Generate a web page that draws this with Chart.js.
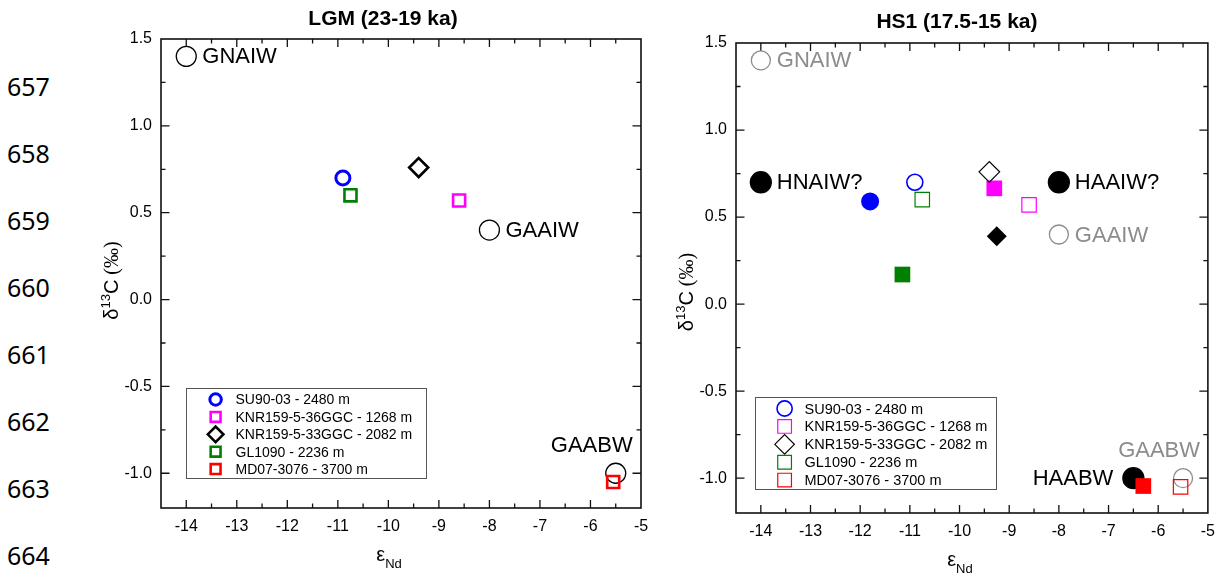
<!DOCTYPE html>
<html>
<head>
<meta charset="utf-8">
<script src="https://cdn.jsdelivr.net/npm/chart.js@4.4.1/dist/chart.umd.min.js"></script>
<style>
  body { margin: 0; background: #fff; }
  #page { position: relative; width: 1224px; height: 578px; overflow: hidden; }
  canvas { position: absolute; top: 0; }
  .ln { position: absolute; left: 7px; font-family: 'Noto Sans', sans-serif; font-size: 25px; line-height: 25px; color: #000; }
</style>
</head>
<body>
<div id="page">
  <canvas id="lgm" width="600" height="578" style="left:60px"></canvas>
  <canvas id="hs1" width="564" height="578" style="left:660px"></canvas>
</div>
<script>
// manuscript line numbers in the margin
const lineNumbers = [657, 658, 659, 660, 661, 662, 663, 664];

// axes
const xTicks = [-14, -13, -12, -11, -10, -9, -8, -7, -6, -5];
const yTicks = [-1.0, -0.5, 0.0, 0.5, 1.0, 1.5];

// cores
const coreNames = ['SU90-03 - 2480 m', 'KNR159-5-36GGC - 1268 m', 'KNR159-5-33GGC - 2082 m',
                   'GL1090 - 2236 m', 'MD07-3076 - 3700 m'];
const coreColors = ['#0000ff', '#ff00ff', '#000000', '#008000', '#ff0000'];
const coreStyles = ['circle', 'rect', 'rectRot', 'rect', 'rect'];

// LGM (23-19 ka) values
const lgmEps = [-10.9, -8.6, -9.4, -10.75, -5.55];
const lgmD13 = [0.70, 0.57, 0.76, 0.60, -1.05];

// HS1 (17.5-15 ka) values
const hs1Eps = [-11.8, -9.3, -9.25, -11.15, -6.3];
const hs1D13 = [0.59, 0.665, 0.39, 0.17, -1.045];

// end members
const glacialNames = ['GNAIW', 'GAAIW', 'GAABW'];
const glacialEps = [-14, -8, -5.5];
const glacialD13 = [1.4, 0.4, -1.0];
const glacialPlace = ['right', 'right', 'above'];

const hs1EndNames = ['HNAIW?', 'HAAIW?', 'HAABW'];
const hs1EndEps = [-14, -8, -6.5];
const hs1EndD13 = [0.7, 0.7, -1.0];
const hs1EndPlace = ['right', 'right', 'left'];

const FONT = '"Liberation Sans", Arial, sans-serif';
Chart.defaults.font.family = FONT;
Chart.defaults.color = '#000';

lineNumbers.forEach((n, i) => {
  const d = document.createElement('div');
  d.className = 'ln';
  d.style.top = (87 + 67 * i - 13.3) + 'px';
  d.textContent = n;
  document.getElementById('page').appendChild(d);
});

function pts(xs, ys) { return xs.map((x, i) => ({ x: x, y: ys[i] })); }

function marker(ctx, style, x, y, r) {
  ctx.beginPath();
  if (style === 'circle') ctx.arc(x, y, r, 0, Math.PI * 2);
  else if (style === 'rect') { const s = r * Math.SQRT1_2; ctx.rect(x - s, y - s, 2 * s, 2 * s); }
  else { ctx.moveTo(x - r, y); ctx.lineTo(x, y - r); ctx.lineTo(x + r, y); ctx.lineTo(x, y + r); ctx.closePath(); }
}

function coreSets(xs, ys, filled, lw, radii, inLegend) {
  return coreNames.map((name, i) => ({
    label: name,
    data: [{ x: xs[i], y: ys[i] }],
    pointStyle: coreStyles[i],
    pointRadius: radii[coreStyles[i]],
    pointBorderColor: coreColors[i],
    pointBackgroundColor: filled ? coreColors[i] : 'rgba(0,0,0,0)',
    pointBorderWidth: filled ? 0 : (coreStyles[i] === 'circle' ? lw + 0.4 : lw),
    order: filled ? 1 : 0,
    inLegend: inLegend
  }));
}

function endSet(names, xs, ys, place, color, filled, r) {
  return {
    label: names.join(','),
    data: pts(xs, ys),
    names: names,
    place: place,
    labelColor: color,
    pointStyle: 'circle',
    pointRadius: r,
    pointBorderColor: color,
    pointBackgroundColor: filled ? color : 'rgba(0,0,0,0)',
    pointBorderWidth: 1.3,
    order: 5
  };
}

const deco = {
  lgm: { title: 'LGM (23-19 ka)', titleDx: -18, titleY: 19, yTitleDy: 7, legendTop: 120, legendDx: 25,
         legendW: 240, legendH: 90, rowH: 17.4, legendFont: 14, legendScale: 0.82, legendLw: 2.6 },
  hs1: { title: 'HS1 (17.5-15 ka)', titleDx: -15, titleY: 22, yTitleDy: 14, legendTop: 116, legendDx: 19,
         legendW: 241, legendH: 92, rowH: 17.9, legendFont: 14.5, legendScale: 0.95, legendLw: 1.2 }
};

const decoPlugin = {
  id: 'deco',
  beforeDatasetsDraw(chart) {
    const { ctx, chartArea: a, scales: { x, y } } = chart;
    ctx.save();
    ctx.strokeStyle = '#111';
    ctx.lineWidth = 1.6;
    ctx.strokeRect(a.left, a.top, a.right - a.left, a.bottom - a.top);
    ctx.lineWidth = 1.3;
    ctx.beginPath();
    for (let k = 1; ; k++) {
      const v = x.min + k * 0.5;
      if (v >= x.max - 1e-6) break;
      const L = Math.abs(v - Math.round(v)) < 1e-6 ? 8 : 4.5;
      const p = x.getPixelForValue(v);
      ctx.moveTo(p, a.bottom); ctx.lineTo(p, a.bottom - L);
      ctx.moveTo(p, a.top); ctx.lineTo(p, a.top + L);
    }
    for (let k = Math.ceil(y.min / 0.25); ; k++) {
      const v = k * 0.25;
      if (v >= y.max - 1e-6) break;
      const L = k % 2 === 0 ? 8.5 : 4.5;
      const p = y.getPixelForValue(v);
      ctx.moveTo(a.left, p); ctx.lineTo(a.left + L, p);
      ctx.moveTo(a.right, p); ctx.lineTo(a.right - L, p);
    }
    ctx.stroke();
    ctx.restore();
  },
  afterDatasetsDraw(chart) {
    const cfg = deco[chart.canvas.id];
    const { ctx, chartArea: a, scales: { x, y } } = chart;
    const cx = (a.left + a.right) / 2;
    ctx.save();
    // title
    ctx.fillStyle = '#000';
    ctx.font = 'bold 21px ' + FONT;
    ctx.textAlign = 'center';
    ctx.textBaseline = 'middle';
    ctx.fillText(cfg.title, cx + cfg.titleDx, cfg.titleY);

    // end-member labels
    ctx.font = '22px ' + FONT;
    chart.data.datasets.forEach(ds => {
      if (!ds.names) return;
      ctx.fillStyle = ds.labelColor;
      ds.data.forEach((pt, i) => {
        const px = x.getPixelForValue(pt.x), py = y.getPixelForValue(pt.y);
        const pl = ds.place[i];
        if (pl === 'right') { ctx.textAlign = 'left'; ctx.fillText(ds.names[i], px + 16, py + 1); }
        else if (pl === 'left') { ctx.textAlign = 'right'; ctx.fillText(ds.names[i], px - 20, py + 1); }
        else { ctx.textAlign = 'right'; ctx.fillText(ds.names[i], px + 17, py - 27); }
      });
    });

    // legend box
    const lx = a.left + cfg.legendDx, ly = a.bottom - cfg.legendTop;
    ctx.strokeStyle = '#555';
    ctx.lineWidth = 1;
    ctx.strokeRect(Math.round(lx) + 0.5, Math.round(ly) + 0.5, cfg.legendW, cfg.legendH);
    ctx.font = cfg.legendFont + 'px ' + FONT;
    ctx.textAlign = 'left';
    let row = 0;
    chart.data.datasets.forEach(ds => {
      if (!ds.inLegend) return;
      const ry = ly + 11.5 + row * cfg.rowH;
      ctx.strokeStyle = ds.pointBorderColor;
      ctx.lineWidth = ds.pointStyle === 'circle' ? cfg.legendLw + 0.4 : cfg.legendLw;
      marker(ctx, ds.pointStyle, lx + 29.6, ry, ds.pointRadius * cfg.legendScale);
      ctx.stroke();
      ctx.fillStyle = '#000';
      ctx.fillText(ds.label, lx + 49.5, ry + 1);
      row++;
    });

    // y title: delta13C (permil)
    ctx.save();
    ctx.translate(a.left - 50, (a.top + a.bottom) / 2 + cfg.yTitleDy);
    ctx.rotate(-Math.PI / 2);
    const parts = [['δ', '20px ' + FONT, 0], ['13', '13px ' + FONT, -8], ['C', '20px ' + FONT, 0],
                   [' (‰)', '20px "Liberation Serif", serif', 0]];
    let w = 0;
    parts.forEach(p => { ctx.font = p[1]; w += ctx.measureText(p[0]).width; });
    let tx = -w / 2;
    ctx.textAlign = 'left';
    ctx.textBaseline = 'alphabetic';
    ctx.fillStyle = '#000';
    parts.forEach(p => { ctx.font = p[1]; ctx.fillText(p[0], tx, 7 + p[2]); tx += ctx.measureText(p[0]).width; });
    ctx.restore();

    // x title: epsilon Nd
    ctx.textBaseline = 'alphabetic';
    ctx.textAlign = 'left';
    ctx.font = '20px ' + FONT;
    const ew = ctx.measureText('ε').width;
    ctx.font = '13px ' + FONT;
    const nw = ctx.measureText('Nd').width;
    const sx = cx - 12 - (ew + nw) / 2;
    ctx.font = '20px ' + FONT;
    ctx.fillText('ε', sx, a.bottom + 53);
    ctx.font = '13px ' + FONT;
    ctx.fillText('Nd', sx + ew, a.bottom + 60);
    ctx.restore();
  }
};

function scales(yw, xh) {
  return {
    x: {
      type: 'linear', min: -14.5, max: -5,
      grid: { display: false, drawTicks: false }, border: { display: false },
      afterBuildTicks: s => { s.ticks = xTicks.map(v => ({ value: v })); },
      afterFit: s => { s.height = xh; },
      ticks: { font: { size: 16 }, padding: 9, autoSkip: false, maxRotation: 0, callback: v => String(v) }
    },
    y: {
      type: 'linear', min: -1.2, max: 1.5,
      grid: { display: false, drawTicks: false }, border: { display: false },
      afterBuildTicks: s => { s.ticks = yTicks.map(v => ({ value: v })); },
      afterFit: s => { s.width = yw; },
      ticks: { font: { size: 16 }, padding: 9, autoSkip: false, callback: v => v.toFixed(1) }
    }
  };
}

function baseOptions(yw, xh, pad) {
  return {
    responsive: false,
    animation: false,
    events: [],
    layout: { padding: pad },
    plugins: { legend: { display: false }, tooltip: { enabled: false } },
    scales: scales(yw, xh)
  };
}

new Chart(document.getElementById('lgm'), {
  type: 'scatter',
  data: {
    datasets: [
      endSet(glacialNames, glacialEps, glacialD13, glacialPlace, '#000', false, 10),
      ...coreSets(lgmEps, lgmD13, false, 2.6, { circle: 7, rect: 8.5, rectRot: 9.5 }, true)
    ]
  },
  options: baseOptions(101, 70, { left: 0, right: 19, top: 39, bottom: 0 }),
  plugins: [decoPlugin]
});

new Chart(document.getElementById('hs1'), {
  type: 'scatter',
  data: {
    datasets: [
      endSet(glacialNames, glacialEps, glacialD13, glacialPlace, '#8c8c8c', false, 9.5),
      endSet(hs1EndNames, hs1EndEps, hs1EndD13, hs1EndPlace, '#000', true, 10.5),
      ...coreSets(lgmEps, lgmD13, false, 1.2, { circle: 8, rect: 10.2, rectRot: 10.3 }, true),
      ...coreSets(hs1Eps, hs1D13, true, 0, { circle: 9, rect: 11.1, rectRot: 10 }, false)
    ]
  },
  options: baseOptions(76, 65, { left: 0, right: 10, top: 43, bottom: 0 }),
  plugins: [decoPlugin]
});
</script>
</body>
</html>
